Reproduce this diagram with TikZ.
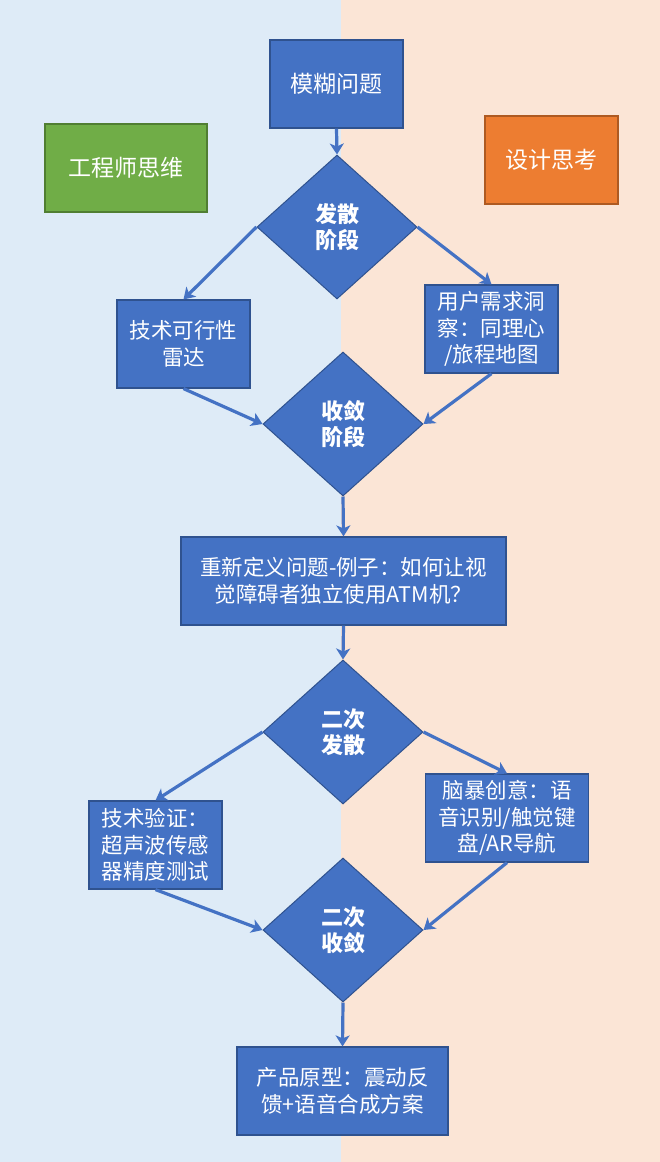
\documentclass[tikz,border=0pt]{standalone}
\usepackage{fontspec}
\setmainfont{Noto Sans CJK SC}
\usetikzlibrary{shapes.geometric,arrows.meta}
\definecolor{bgL}{HTML}{DEEBF7}
\definecolor{bgR}{HTML}{FBE5D6}
\definecolor{boxB}{HTML}{4472C4}
\definecolor{edgeB}{HTML}{2F528F}
\definecolor{boxG}{HTML}{70AD47}
\definecolor{edgeG}{HTML}{507E32}
\definecolor{boxO}{HTML}{ED7D31}
\definecolor{edgeO}{HTML}{AE5A21}
\begin{document}
\begin{tikzpicture}[x=1pt,y=-1pt,
 proc/.style={draw=edgeB, fill=boxB, line width=1.2pt, text=white, align=center, inner sep=0pt, minimum width=133pt, minimum height=88pt, font=\fontsize{21.5}{26.5}\selectfont},
 dec/.style={diamond, draw=edgeB, fill=boxB, line width=1pt, text=white, align=center, inner sep=0pt, minimum width=160pt, minimum height=144pt, font=\fontsize{22}{25.5}\selectfont\bfseries},
 flow/.style={draw=boxB, line width=3.2pt, -{Stealth[length=11pt,width=14pt,inset=3pt]}}
]
\useasboundingbox (0,0) rectangle (660,1162);
\fill[bgL] (0,0) rectangle (341,1162);
\fill[bgR] (341,0) rectangle (660,1162);

\node[proc, font=\fontsize{23}{28}\selectfont] (fuzzy) at (336.5,84) {模糊问题};
\node[proc, draw=edgeG, fill=boxG, minimum width=162pt, font=\fontsize{23}{28}\selectfont] (eng) at (126,168) {工程师思维};
\node[proc, draw=edgeO, fill=boxO, font=\fontsize{23}{28}\selectfont] (des) at (551.5,160) {设计思考};

\node[dec] (d1) at (337,227) {发散\\阶段};
\node[proc] (tech) at (183.5,344) {技术可行性\\雷达};
\node[proc] (user) at (491.5,329) {用户需求洞\\察：同理心\\/旅程地图};
\node[dec] (d2) at (343,424) {收敛\\阶段};
\node[proc, minimum width=325pt] (redef) at (343.5,581) {重新定义问题-例子：如何让视\\觉障碍者独立使用ATM机？};
\node[dec] (d3) at (343,732) {二次\\发散};
\node[proc] (verify) at (155.5,845) {技术验证：\\超声波传感\\器精度测试};
\node[proc, minimum width=163pt] (brain) at (507,818) {脑暴创意：语\\音识别/触觉键\\盘/AR导航};
\node[dec] (d4) at (343,930) {二次\\收敛};
\node[proc, minimum width=211pt] (proto) at (342.5,1091) {产品原型：震动反\\馈+语音合成方案};

\draw[flow] (fuzzy.south) -- (d1.north);
\draw[flow] (d1.west) -- (tech.north);
\draw[flow] (d1.east) -- (user.north);
\draw[flow] (tech.south) -- (d2.west);
\draw[flow] (user.south) -- (d2.east);
\draw[flow] (d2.south) -- (redef.north);
\draw[flow] (redef.south) -- (d3.north);
\draw[flow] (d3.west) -- (verify.north);
\draw[flow] (d3.east) -- (brain.north);
\draw[flow] (verify.south) -- (d4.west);
\draw[flow] (brain.south) -- (d4.east);
\draw[flow] (d4.south) -- (proto.north);
\end{tikzpicture}
\end{document}
